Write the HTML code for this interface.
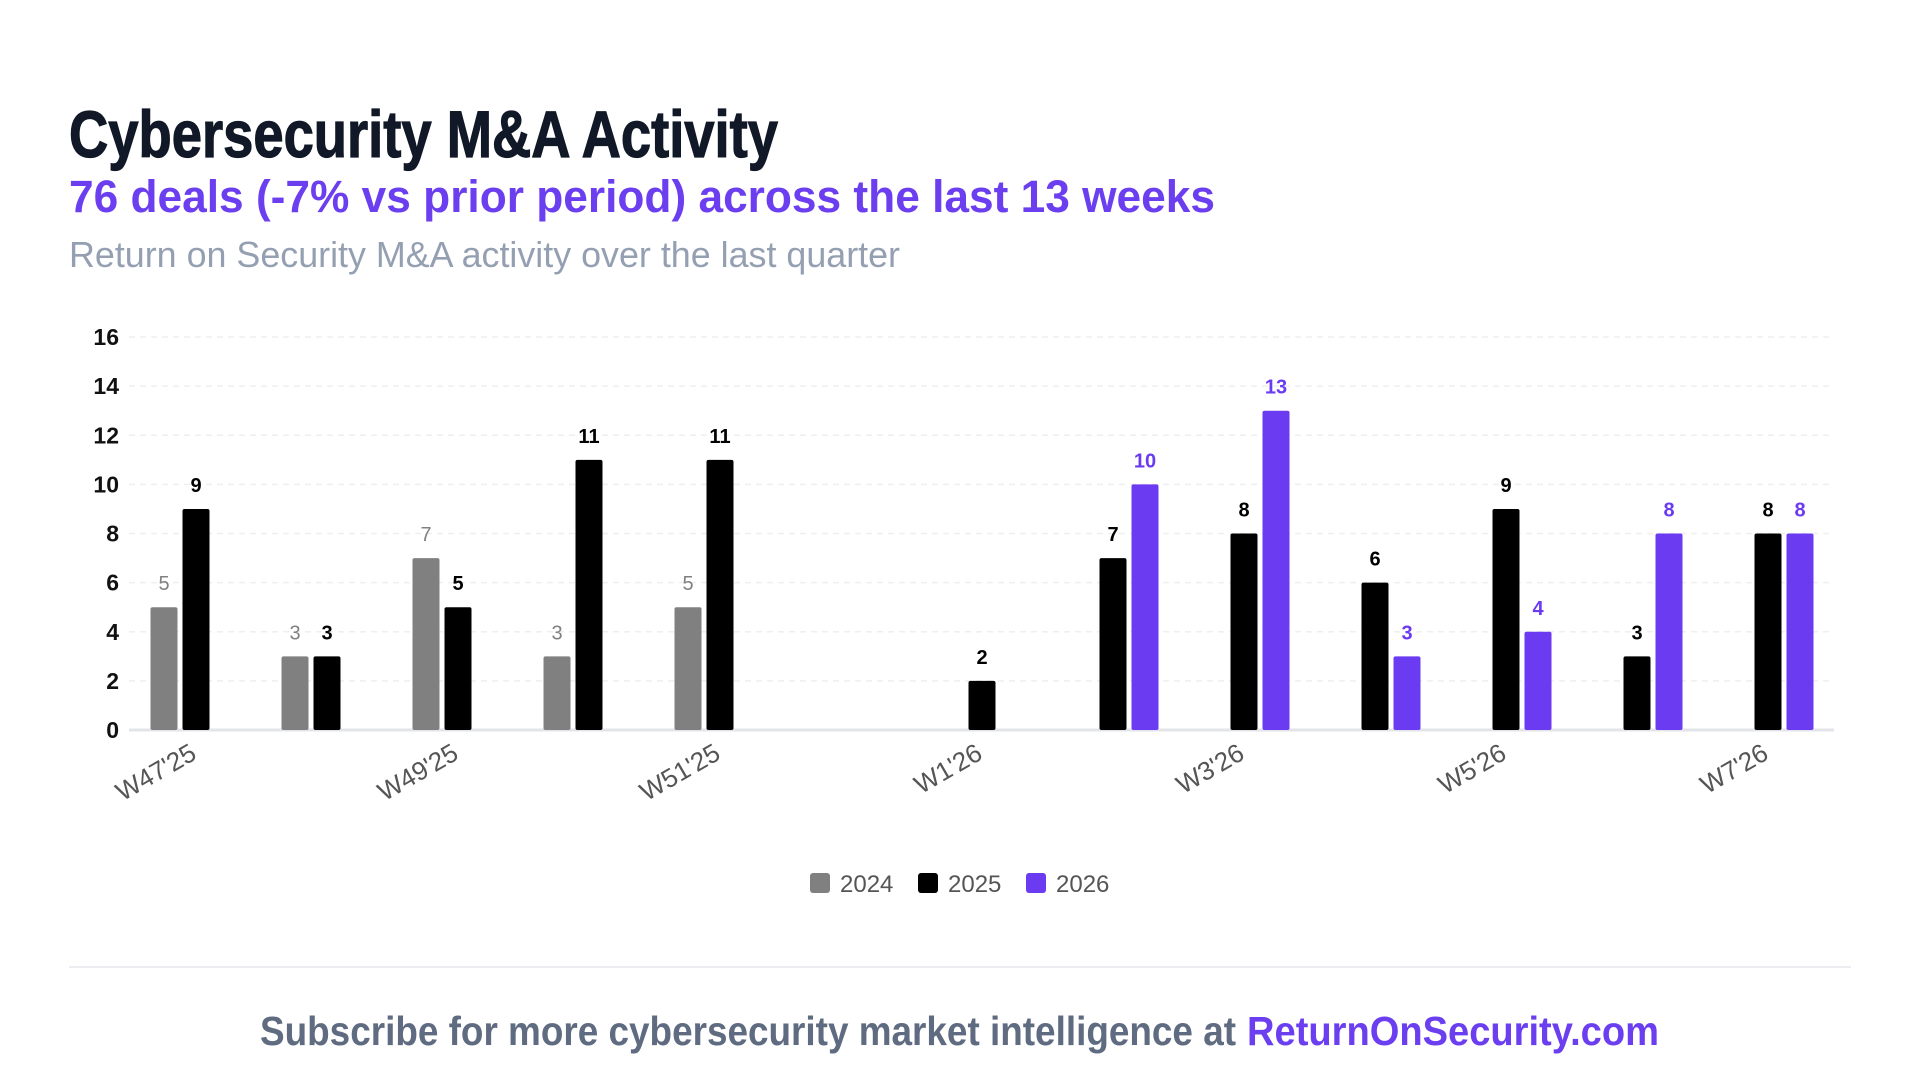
<!DOCTYPE html>
<html><head><meta charset="utf-8"><style>
html,body{margin:0;padding:0;background:#fff;}
svg{display:block;font-family:"Liberation Sans",sans-serif;}
</style></head><body>
<svg id="chart" width="1920" height="1085" viewBox="0 0 1920 1085" xmlns="http://www.w3.org/2000/svg">
<rect width="1920" height="1085" fill="#fff"/>
<text x="69" y="157" font-size="66" font-weight="bold" fill="#111827" stroke="#111827" stroke-width="1.2" textLength="709" lengthAdjust="spacingAndGlyphs">Cybersecurity M&amp;A Activity</text>
<text x="69" y="212" font-size="45" font-weight="bold" fill="#6b3ff0" textLength="1146" lengthAdjust="spacingAndGlyphs">76 deals (-7% vs prior period) across the last 13 weeks</text>
<text x="69" y="267" font-size="36" fill="#94a0b2" textLength="831" lengthAdjust="spacingAndGlyphs">Return on Security M&amp;A activity over the last quarter</text>
<g id="plot"></g>
<g id="legend"></g>
<line x1="69" y1="967" x2="1851" y2="967" stroke="#e5e7eb" stroke-width="1.5"/>
<text x="260" y="1045" font-size="41" font-weight="bold" fill="#5f6b80" textLength="976" lengthAdjust="spacingAndGlyphs">Subscribe for more cybersecurity market intelligence at</text>
<text x="1247" y="1045" font-size="41" font-weight="bold" fill="#6b3ff0" textLength="412" lengthAdjust="spacingAndGlyphs">ReturnOnSecurity.com</text>
</svg>
<script>
const categories = ["W47'25","W48'25","W49'25","W50'25","W51'25","W52'25","W1'26","W2'26","W3'26","W4'26","W5'26","W6'26","W7'26"];
const series2024 = [5,3,7,3,5,null,null,null,null,null,null,null,null];
const series2025 = [9,3,5,11,11,null,2,7,8,6,9,3,8];
const series2026 = [null,null,null,null,null,null,null,10,13,3,4,8,8];
const yTicks = [0,2,4,6,8,10,12,14,16];
const seriesNames = ["2024","2025","2026"];

const NS = "http://www.w3.org/2000/svg";
const plot = document.getElementById('plot');
const legend = document.getElementById('legend');
const colors = ["#808080","#000000","#6a3bf0"];
const x0 = 196, step = 131, slot = 32, yBase = 730, yTop = 337, yMax = 16;
function xC(i){ return x0 + step*i; }
function yS(v){ return yBase - (v/yMax)*(yBase-yTop); }
function mk(tag, attrs){ const e=document.createElementNS(NS,tag); for(const k in attrs) e.setAttribute(k,attrs[k]); return e; }

yTicks.forEach(t=>{
  const g = mk('line',{x1:129,x2:1834,y1:yS(t),y2:yS(t),stroke:t===0?'#e3e4ea':'#efefef','stroke-width':t===0?3:1.5,'stroke-dasharray':t===0?'':'6,5'});
  
  
  plot.appendChild(g);
  const l = mk('text',{x:119,y:yS(t)+8,'text-anchor':'end','font-size':23,'font-weight':'bold',fill:'#111'});
  l.textContent = t;
  
  
  plot.appendChild(l);
});

const all = [series2024, series2025, series2026];
categories.forEach((c,i)=>{
  const bw = 27;
  all.forEach((s,k)=>{
    const v = s[i];
    if(v===null || v===undefined) return;
    const cx = xC(i) + (k-1)*slot;
    const r = mk('rect',{x:cx-bw/2,y:yS(v),width:bw,height:yBase-yS(v),fill:colors[k],rx:2});
    
    
    plot.appendChild(r);
    const t = mk('text',{x:cx,y:yS(v)-17,'text-anchor':'middle','font-size':20,'font-weight':k===0?'normal':'bold',fill:colors[k]});
    t.textContent = v;
    
    
    plot.appendChild(t);
  });
  if(i%2===0){
    const ax = xC(i)+2, ay = 758;
    const xl = mk('text',{x:ax,y:ay,'text-anchor':'end','font-size':26,fill:'#555',transform:`rotate(-30 ${ax} ${ay})`});
    xl.textContent = c;
    
    
    plot.appendChild(xl);
  }
});

const lx = [810, 918, 1026];
seriesNames.forEach((n,k)=>{
  const sq = mk('rect',{x:lx[k],y:873,width:20,height:20,rx:3,fill:colors[k]});
  
  
  legend.appendChild(sq);
  const t = mk('text',{x:lx[k]+30,y:892,'font-size':24,fill:'#555'});
  t.textContent = n;
  
  
  legend.appendChild(t);
});
</script>
</body></html>
